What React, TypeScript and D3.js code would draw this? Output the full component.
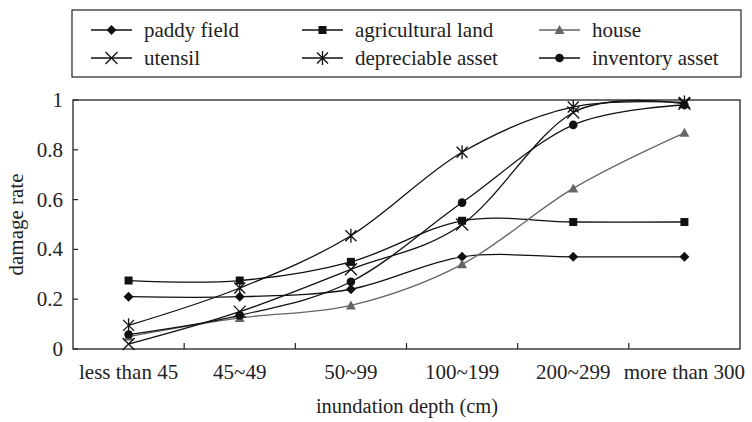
import React from "react";
import * as d3 from "d3";

const categories = ["less than 45", "45~49", "50~99", "100~199", "200~299", "more than 300"];
const paddyField = [0.21, 0.21, 0.24, 0.37, 0.37, 0.37];
const agriculturalLand = [0.275, 0.275, 0.35, 0.515, 0.51, 0.51];
const house = [0.05, 0.125, 0.175, 0.34, 0.645, 0.868];
const utensil = [0.02, 0.15, 0.32, 0.5, 0.95, 0.985];
const depreciableAsset = [0.095, 0.245, 0.455, 0.79, 0.972, 0.99];
const inventoryAsset = [0.058, 0.135, 0.27, 0.588, 0.9, 0.98];
const yTicks = [0, 0.2, 0.4, 0.6, 0.8, 1];

type Marker = "diamond" | "square" | "triangle" | "x" | "asterisk" | "circle";

const seriesList: { name: string; values: number[]; marker: Marker; color: string }[] = [
  { name: "paddy field", values: paddyField, marker: "diamond", color: "#111" },
  { name: "agricultural land", values: agriculturalLand, marker: "square", color: "#111" },
  { name: "house", values: house, marker: "triangle", color: "#666" },
  { name: "utensil", values: utensil, marker: "x", color: "#111" },
  { name: "depreciable asset", values: depreciableAsset, marker: "asterisk", color: "#111" },
  { name: "inventory asset", values: inventoryAsset, marker: "circle", color: "#111" },
];

const W = 752;
const H = 422;
const plot = { left: 73, top: 100, right: 740, bottom: 349 };
const textStyle: React.CSSProperties = {
  fontFamily: "Liberation Serif",
  fontSize: "21px",
  fill: "#222",
};

function MarkerShape({ type, x, y, color }: { type: Marker; x: number; y: number; color: string }) {
  switch (type) {
    case "diamond":
      return <path d={`M${x},${y - 5}L${x + 5},${y}L${x},${y + 5}L${x - 5},${y}Z`} fill={color} />;
    case "square":
      return <rect x={x - 4} y={y - 4} width={8} height={8} fill={color} />;
    case "triangle":
      return <path d={`M${x},${y - 5}L${x + 5},${y + 4}L${x - 5},${y + 4}Z`} fill={color} />;
    case "circle":
      return <circle cx={x} cy={y} r={4.3} fill={color} />;
    case "x":
      return (
        <path
          d={`M${x - 6},${y - 6}L${x + 6},${y + 6}M${x - 6},${y + 6}L${x + 6},${y - 6}`}
          stroke={color}
          strokeWidth={1.3}
          fill="none"
        />
      );
    case "asterisk":
      return (
        <path
          d={`M${x - 5.5},${y - 5.5}L${x + 5.5},${y + 5.5}M${x - 5.5},${y + 5.5}L${x + 5.5},${y - 5.5}M${x},${y - 7}L${x},${y + 7}`}
          stroke={color}
          strokeWidth={1.3}
          fill="none"
        />
      );
  }
}

export default function App() {
  const x = d3.scaleBand<string>().domain(categories).range([plot.left, plot.right]);
  const y = d3.scaleLinear().domain([0, 1]).range([plot.bottom, plot.top]);
  const cx = (c: string) => (x(c) ?? 0) + x.bandwidth() / 2;

  const line = d3
    .line<number>()
    .x((_, i) => cx(categories[i]))
    .y((v) => y(v))
    .curve(d3.curveCatmullRom.alpha(0));

  const legendCols = [91, 302, 539];
  const legendRows = [30, 58];

  return (
    <svg width={W} height={H} style={{ position: "absolute", left: 0, top: 0, background: "#fff" }}>
      <rect x={0} y={0} width={W} height={H} fill="#fff" />
      {/* legend */}
      <rect x={72} y={10} width={669} height={67} fill="none" stroke="#222" strokeWidth={1.2} />
      {seriesList.map((s, i) => {
        const lx = legendCols[i % 3];
        const ly = legendRows[Math.floor(i / 3)];
        return (
          <g key={s.name}>
            <line x1={lx} x2={lx + 41} y1={ly} y2={ly} stroke={s.color} strokeWidth={1.3} />
            <MarkerShape type={s.marker} x={lx + 20.5} y={ly} color={s.color} />
            <text x={lx + 53} y={ly + 6.5} style={textStyle}>
              {s.name}
            </text>
          </g>
        );
      })}

      {/* frame */}
      <rect
        x={plot.left}
        y={plot.top}
        width={plot.right - plot.left}
        height={plot.bottom - plot.top}
        fill="none"
        stroke="#222"
        strokeWidth={1.3}
      />

      {/* y ticks */}
      {yTicks.map((t) => (
        <g key={t}>
          <line x1={plot.left} x2={plot.left + 5} y1={y(t)} y2={y(t)} stroke="#222" strokeWidth={1.2} />
          <text x={63} y={y(t) + 7} textAnchor="end" style={textStyle}>
            {t}
          </text>
        </g>
      ))}

      {/* x ticks between categories */}
      {categories.slice(1).map((c) => (
        <line
          key={c}
          x1={x(c)}
          x2={x(c)}
          y1={plot.bottom}
          y2={plot.bottom - 6}
          stroke="#222"
          strokeWidth={1.2}
        />
      ))}
      {categories.map((c) => (
        <text key={c} x={cx(c)} y={379} textAnchor="middle" style={textStyle}>
          {c}
        </text>
      ))}

      {/* series */}
      {seriesList.map((s) => (
        <g key={s.name}>
          <path d={line(s.values) ?? ""} fill="none" stroke={s.color} strokeWidth={1.3} />
          {s.values.map((v, i) => (
            <MarkerShape key={i} type={s.marker} x={cx(categories[i])} y={y(v)} color={s.color} />
          ))}
        </g>
      ))}

      {/* axis titles */}
      <text
        transform={`translate(23,${(plot.top + plot.bottom) / 2}) rotate(-90)`}
        textAnchor="middle"
        style={textStyle}
      >
        damage rate
      </text>
      <text x={407} y={413} textAnchor="middle" style={{ ...textStyle, fontSize: "20.5px" }}>
        inundation depth (cm)
      </text>
    </svg>
  );
}
